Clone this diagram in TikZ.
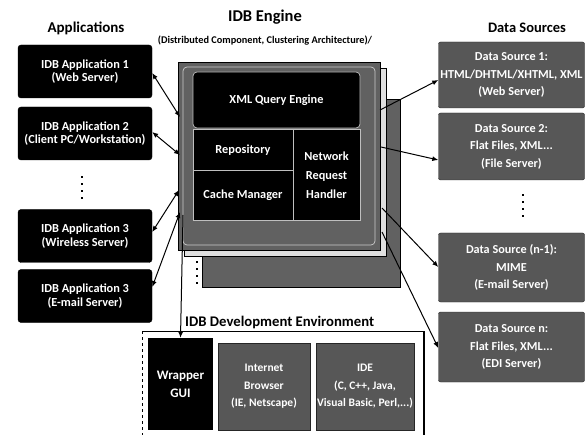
\documentclass[tikz,border=0pt]{standalone}
\usepackage{fontspec}
\setmainfont{Carlito}
\usetikzlibrary{arrows.meta}

\begin{document}
\begin{tikzpicture}[x=1pt,y=-1pt,
  appbox/.style={fill=black, draw=black, rounded corners=3pt,
    minimum width=134pt, minimum height=53pt, inner sep=1pt,
    text=white, align=center, font=\bfseries\fontsize{12.3}{13.5}\selectfont},
  srcbox/.style={fill=black!66, draw=black!85, rounded corners=2pt,
    minimum width=146pt, inner sep=1pt,
    text=white, align=center, font=\bfseries\fontsize{12.2}{17.5}\selectfont},
  toolbox/.style={fill=black!66, draw=black!85, minimum height=87pt, inner sep=1pt,
    text=white, align=center, font=\bfseries\fontsize{11.5}{17.5}\selectfont},
  layer/.style={fill=black!62, draw=black, line width=0.8pt, anchor=north west, inner sep=0pt},
  panel/.style={fill=black, draw=black!25, line width=0.7pt, inner sep=1pt,
    text=white, align=center, font=\bfseries\fontsize{12.3}{19}\selectfont},
  heading/.style={font=\bfseries\fontsize{15}{17}\selectfont, inner sep=0pt},
  dot/.style={fill=black, minimum size=2.6pt, inner sep=0pt},
  oneway/.style={line width=1pt, -{Latex[length=6pt,width=5pt]}},
  twoway/.style={line width=1pt, {Latex[length=6pt,width=5pt]}-{Latex[length=6pt,width=5pt]}},
]
\useasboundingbox (0,0) rectangle (588,435);

% ---------- headings ----------
\node[heading] (hApps) at (86,28) {Applications};
\node[heading, font=\bfseries\fontsize{16.5}{18}\selectfont] (hEngine) at (265,17) {IDB Engine};
\node[inner sep=0pt, font=\bfseries\fontsize{10.3}{12}\selectfont] (hSub) at (265,41)
  {(Distributed Component, Clustering Architecture)/};
\node[heading, font=\bfseries\fontsize{14.5}{16}\selectfont] (hSrc) at (527,28) {Data Sources};

% ---------- applications ----------
\node[appbox] (app1) at (85,71.5) {IDB Application 1\\(Web Server)};
\node[appbox] (app2) at (85,133.5) {IDB Application 2\\(Client PC/Workstation)};
\foreach \y [count=\i] in {177,184,191,198} \node[dot] (adot\i) at (82,\y) {};
\node[appbox] (app3) at (85,236) {IDB Application 3\\(Wireless Server)};
\node[appbox] (app4) at (85,296) {IDB Application 3\\(E-mail Server)};

% ---------- engine: stacked cluster layers ----------
\node[layer, minimum width=198pt, minimum height=188pt] (back) at (202,99) {};
\node[layer, fill=black!12, minimum width=202pt, minimum height=188pt] (mid) at (184,68) {};
\node[layer, minimum width=202pt, minimum height=188pt] (front) at (178,62) {};
\draw[black!20, line width=0.7pt, rounded corners=4pt] (183,67) rectangle (375,245);
\foreach \y [count=\i] in {262,269,276,283} \node[dot] (edot\i) at (197,\y) {};

\node[panel, minimum width=167pt, minimum height=56pt, rounded corners=4pt] (xml) at (276.5,100) {XML Query Engine};
\node[panel, minimum width=100pt, minimum height=41pt] (repo) at (243,150) {Repository};
\node[panel, minimum width=100pt, minimum height=50pt] (cache) at (243,195.5) {Cache Manager};
\node[panel, minimum width=67pt, minimum height=91pt] (net) at (326.5,175) {Network\\Request\\Handler};

% ---------- data sources ----------
\node[srcbox, minimum height=66pt] (src1) at (511.5,75) {Data Source 1:\\HTML/DHTML/XHTML, XML\\(Web Server)};
\node[srcbox, minimum height=67pt] (src2) at (511.5,146.5) {Data Source 2:\\Flat Files, XML...\\(File Server)};
\foreach \y [count=\i] in {195,202,209,216} \node[dot] (sdot\i) at (523,\y) {};
\node[srcbox, minimum height=69pt] (src3) at (511.5,267.5) {Data Source (n-1):\\MIME\\(E-mail Server)};
\node[srcbox, minimum height=70pt] (src4) at (511.5,347) {Data Source n:\\Flat Files, XML...\\(EDI Server)};

% ---------- development environment ----------
\node[anchor=west, inner sep=0pt, font=\bfseries\fontsize{14.7}{16}\selectfont] (hDev) at (185,322)
  {IDB Development Environment};
\coordinate (devTL) at (142,331);
\coordinate (devTR) at (424,331);
\coordinate (devBL) at (142,435);
\coordinate (devBR) at (424,435);
\draw[line width=0.8pt] (devTL) -- (devTR);
\draw[line width=0.8pt, dashed] (devTL) -- (devBL);
\draw[line width=1.4pt] (devTR) -- (devBR);

\node[fill=black, minimum width=65pt, minimum height=92pt, inner sep=1pt, text=white,
  align=center, font=\bfseries\fontsize{13}{18}\selectfont] (gui) at (180.5,384) {Wrapper\\GUI};
\node[toolbox, minimum width=92pt] (browser) at (264,386.5) {Internet\\Browser\\(IE, Netscape)};
\node[toolbox, minimum width=96pt] (ide) at (365,386.5) {IDE\\(C, C++, Java,\\Visual Basic, Perl,...)};

% ---------- connection points on the cluster ----------
\coordinate (inA) at (180,117);
\coordinate (inB) at (180,155);
\coordinate (inC) at (179,190);
\coordinate (inD) at (180,212);
\coordinate (inE) at (183,215);
\coordinate (outA) at (380,110);
\coordinate (outB) at (381,147);
\coordinate (outC) at (382,208);
\coordinate (outD) at (382,232);

% ---------- connectors ----------
\draw[twoway] (app1.east |- 0,73) -- (inA);
\draw[twoway] (app2.east |- 0,132) -- (inB);
\draw[twoway] (app3.east |- 0,232) -- (inC);
\draw[twoway] (app4.east |- 0,287) -- (inD);
\draw[oneway] (inE) -- (gui.north);

\draw[oneway] (outA) -- (src1.west |- 0,80);
\draw[oneway] (outB) -- (src2.west |- 0,160);
\draw[oneway] (outC) -- (src3.west |- 0,267);
\draw[oneway] (outD) -- (src4.west |- 0,348);
\end{tikzpicture}
\end{document}
